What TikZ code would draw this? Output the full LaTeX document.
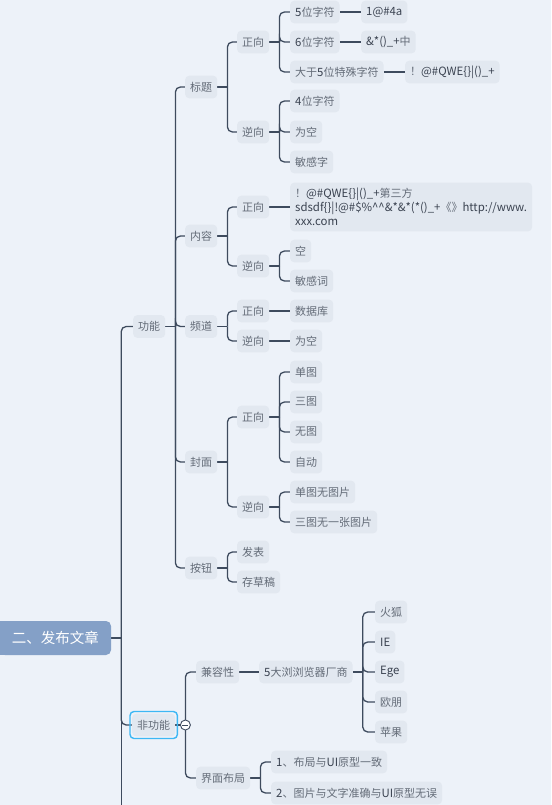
\documentclass[tikz,border=0pt]{standalone}
\usepackage{fontspec}
\setmainfont{Noto Sans CJK SC}
\usetikzlibrary{calc,fit}
\definecolor{bgc}{HTML}{EDF2F9}
\definecolor{boxc}{HTML}{E2E8F0}
\definecolor{linec}{HTML}{3E4B5E}
\definecolor{txtc}{HTML}{646C78}
\definecolor{latc}{HTML}{3A4250}
\definecolor{rootc}{HTML}{84A0C7}
\definecolor{selc}{HTML}{3DB7F4}
\newcommand\lat[1]{{\fontsize{11.4pt}{14pt}\selectfont\textcolor{latc}{#1}}}
\pgfdeclarelayer{back}
\pgfdeclarelayer{links}
\pgfsetlayers{back,links,main}
\tikzset{
  topic/.style={fill=boxc, rounded corners=4pt, inner xsep=5pt, inner ysep=0pt,
    minimum height=22.6pt, text=txtc, anchor=west,
    font=\fontsize{11pt}{14pt}\selectfont},
  longtopic/.style={topic, align=left, inner ysep=5.5pt},
  roottopic/.style={fill=rootc, rounded corners=5pt, minimum width=111pt,
    minimum height=34pt, text=white, font=\fontsize{14.5pt}{16pt}\selectfont},
  link/.style={draw=linec, line width=1.3pt},
  selbox/.style={draw=selc, line width=1.4pt, rounded corners=4pt, inner sep=2pt},
  foldmark/.style={circle, draw=linec, fill=white, line width=0.9pt,
    minimum size=10pt, inner sep=0pt}
}
% parent -> spine 10pt to the right -> each child
\newcommand\fork[2]{%
  \draw[link] (#1.east) -- ++(10pt,0) coordinate (sp);
  \foreach \c in {#2}{\draw[link,rounded corners=5pt] (sp) |- (\c.west);}%
}
\newcommand\tie[2]{\draw[link] (#1.east) -- (#2.west);}
\begin{document}
\begin{tikzpicture}[x=1pt,y=-1pt]
\useasboundingbox (0,0) rectangle (551,805);
\begin{pgfonlayer}{back}
  \fill[bgc] (0,0) rectangle (551,805);
  \fill[rootc] (0,621) rectangle (12,655);
\end{pgfonlayer}

% central topic
\node[roottopic] (root) at (55.5,638) {二、发布文章};

% functional branch
\node[topic] (gn) at (133,326.5) {功能};

\node[topic] (t) at (185,87) {标题};
\node[topic] (tz) at (237,42) {正向};
\node[topic] (tz1) at (290,12) {\lat{5}位字符};
\node[topic] (tz1a) at (361,12) {\lat{1@\#4a}};
\node[topic] (tz2) at (290,42) {\lat{6}位字符};
\node[topic] (tz2a) at (361,42) {\lat{\&*()\_+}中};
\node[topic] (tz3) at (290,72) {大于\lat{5}位特殊字符};
\node[topic] (tz3a) at (405,72) {！\lat{@\#QWE\{\}|()\_+}};
\node[topic] (tn) at (237,132) {逆向};
\node[topic] (tn1) at (290,101) {\lat{4}位字符};
\node[topic] (tn2) at (290,132) {为空};
\node[topic] (tn3) at (290,162) {敏感字};

\node[topic] (c) at (185,236) {内容};
\node[topic] (cz) at (237,207) {正向};
\node[longtopic] (cz1) at (290,207) {！\lat{@\#QWE\{\}|()\_+}第三方\\
  \lat{sdsdf\{\}|!@\#\$\%\textasciicircum\textasciicircum\&*\&*(*()\_+}《》\lat{http://www.}\\
  \lat{xxx.com}};
\node[topic] (cn) at (237,266) {逆向};
\node[topic] (cn1) at (290,251) {空};
\node[topic] (cn2) at (290,281) {敏感词};

\node[topic] (p) at (185,326.5) {频道};
\node[topic] (pz) at (237,311) {正向};
\node[topic] (pz1) at (290,311) {数据库};
\node[topic] (pn) at (237,341) {逆向};
\node[topic] (pn1) at (290,341) {为空};

\node[topic] (f) at (185,462) {封面};
\node[topic] (fz) at (237,417) {正向};
\node[topic] (fz1) at (290,372) {单图};
\node[topic] (fz2) at (290,402) {三图};
\node[topic] (fz3) at (290,432) {无图};
\node[topic] (fz4) at (290,462) {自动};
\node[topic] (fn) at (237,507) {逆向};
\node[topic] (fn1) at (290,492) {单图无图片};
\node[topic] (fn2) at (290,522) {三图无一张图片};

\node[topic] (b) at (185,568) {按钮};
\node[topic] (b1) at (237,552) {发表};
\node[topic] (b2) at (237,582) {存草稿};

% non-functional branch
\node[topic] (nf) at (132,725) {非功能};
\node[selbox, fit=(nf)] (nfsel) {};
\node[topic] (k) at (196,672) {兼容性};
\node[topic] (k1) at (259,672) {\lat{5}大浏浏览器厂商};
\node[topic] (k11) at (375,612) {火狐};
\node[topic] (k12) at (375,642) {\lat{IE}};
\node[topic] (k13) at (375,672) {\lat{Ege}};
\node[topic] (k14) at (375,702) {欧朋};
\node[topic] (k15) at (375,732) {苹果};
\node[topic] (j) at (196,778) {界面布局};
\node[topic] (j1) at (271,762) {\lat{1}、布局与\lat{UI}原型一致};
\node[topic] (j2) at (271,793) {\lat{2}、图片与文字准确与\lat{UI}原型无误};

\coordinate (more) at (0,812);

\begin{pgfonlayer}{links}
  \fork{root}{gn,nf}
  \draw[link] (sp) -- (sp |- more);
  \fork{gn}{t,c,p,f,b}
  \fork{t}{tz,tn}
  \fork{tz}{tz1,tz2,tz3}
  \tie{tz1}{tz1a}
  \tie{tz2}{tz2a}
  \tie{tz3}{tz3a}
  \fork{tn}{tn1,tn2,tn3}
  \fork{c}{cz,cn}
  \tie{cz}{cz1}
  \fork{cn}{cn1,cn2}
  \fork{p}{pz,pn}
  \tie{pz}{pz1}
  \tie{pn}{pn1}
  \fork{f}{fz,fn}
  \fork{fz}{fz1,fz2,fz3,fz4}
  \fork{fn}{fn1,fn2}
  \fork{b}{b1,b2}
  \fork{nf}{k,j}
  \tie{k}{k1}
  \fork{k1}{k11,k12,k13,k14,k15}
  \fork{j}{j1,j2}
\end{pgfonlayer}

% collapse marker on the non-functional spine
\node[foldmark] (fold) at ($(nf.east)+(10pt,0)$) {};
\draw[linec, line width=0.9pt] ($(fold.center)+(-3pt,0)$) -- ($(fold.center)+(3pt,0)$);
\end{tikzpicture}
\end{document}
